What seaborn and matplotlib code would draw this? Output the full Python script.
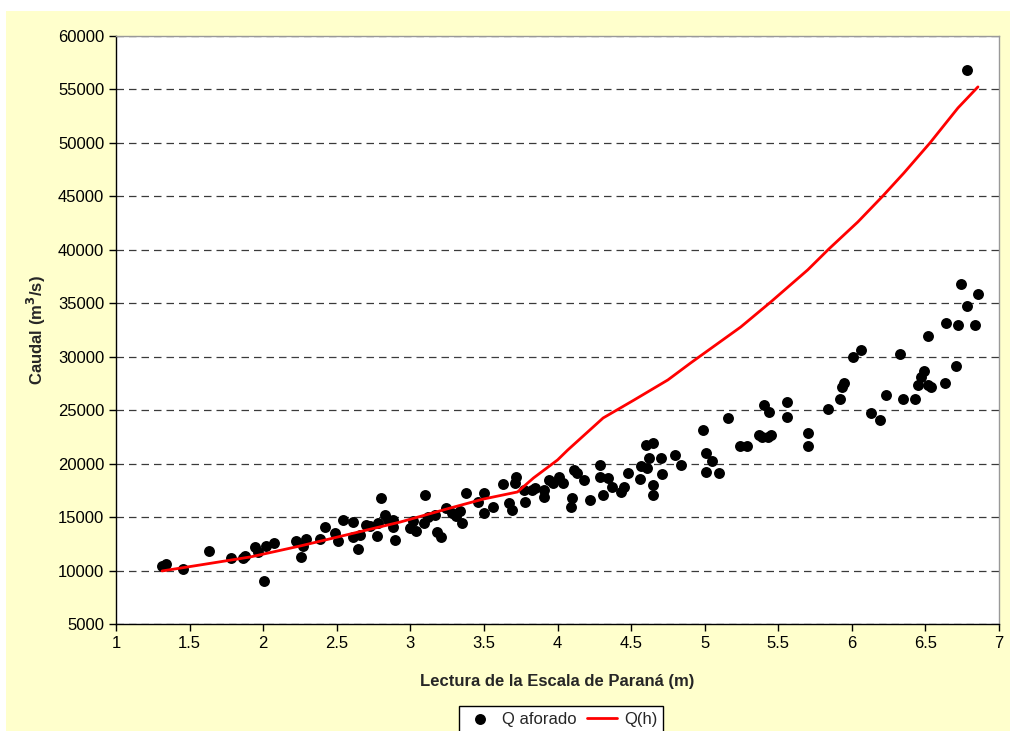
import matplotlib
matplotlib.use("Agg")
import matplotlib.pyplot as plt
import seaborn as sns
import pandas as pd
from matplotlib.patches import Rectangle

# Observed discharges (Q aforado)
h_obs = [1.313, 1.340, 1.456, 1.633, 1.782, 1.864, 1.878, 1.946, 1.966, 2.007, 2.020, 2.075,
         2.224, 2.259, 2.272, 2.293, 2.388, 2.422, 2.490, 2.510, 2.544, 2.612, 2.612, 2.646,
         2.660, 2.701, 2.728, 2.776, 2.782, 2.803, 2.830, 2.850, 2.884, 2.884, 2.898, 3.000,
         3.02, 3.04, 3.095, 3.10, 3.12, 3.17, 3.18, 3.21, 3.24, 3.28, 3.31, 3.34, 3.35, 3.38,
         3.46, 3.50, 3.50, 3.56, 3.63, 3.67, 3.69, 3.71, 3.72, 3.77, 3.78, 3.83, 3.85, 3.91,
         3.91, 3.94, 3.97, 4.01, 4.04, 4.09, 4.10, 4.11, 4.13, 4.18, 4.22, 4.29, 4.29, 4.31,
         4.34, 4.37, 4.43, 4.45, 4.48, 4.56, 4.57, 4.60, 4.65, 4.62, 4.61, 4.65, 4.65, 4.70,
         4.71, 4.80, 4.84,
         4.99, 5.01, 5.05, 5.01, 5.10, 5.16, 5.24, 5.29, 5.37, 5.40, 5.39, 5.43, 5.45, 5.44,
         5.56, 5.56, 5.70, 5.70, 5.84, 5.92, 5.93, 5.95, 6.01, 6.06, 6.13, 6.19, 6.23, 6.33,
         6.35, 6.43, 6.45, 6.47, 6.49, 6.52, 6.54, 6.52, 6.63, 6.64, 6.71, 6.72, 6.74, 6.78,
         6.84, 6.86, 6.78]
q_obs = [10430, 10610, 10145, 11830, 11170, 11170, 11360, 12200, 11735, 9020, 12300, 12580,
         12770, 11270, 12300, 12950, 12950, 14070, 13510, 12770, 14730, 14540, 13140, 12020,
         13330, 14260, 14170, 13230, 14450, 16790, 15200, 14730, 14730, 14070, 12860, 13980,
         14640, 13700, 14450, 17070, 15010, 15200, 13610, 13140, 15850, 15380, 15100, 15570, 14450, 17250,
         16410, 17250, 15380, 15940, 18100, 16320, 15660, 18190, 18750, 17540, 16410, 17540, 17720, 17540,
         16880, 18470, 18190, 18750, 18190, 15940, 16790, 19410, 19130, 18470, 16600, 19870, 18750, 17070,
         18660, 17820, 17350, 17820, 19130, 18560, 19780, 21740, 21930, 20530, 19590, 18000, 17070, 20530,
         19030, 20810, 19870,
         23150, 21000, 20250, 19220, 19130, 24270, 21650, 21650, 22680, 25490, 22490, 22490, 22680, 24830,
         25770, 24360, 22870, 21650, 25110, 26050, 27170, 27550, 29980, 30630, 24740, 24080, 26420, 30260,
         26050, 26050, 27360, 28110, 28670, 27360, 27170, 31940, 27550, 33160, 29140, 32970, 36810, 34750,
         32970, 35870, 56830]

# Rating curve Q(h)
h_curve = [1.313, 1.571, 1.912, 2.252, 2.592, 2.932, 3.272, 3.497, 3.728, 3.837, 4.00, 4.07,
           4.31, 4.52, 4.75, 4.905, 5.245, 5.449, 5.70, 5.844, 6.041, 6.211, 6.354, 6.531,
           6.721, 6.857]
q_curve = [9960, 10520, 11270, 12300, 13420, 14540, 15850, 16690, 17350, 18660, 20340, 21280,
           24270, 25950, 27830, 29420, 32780, 35120, 38120, 40080, 42610, 45040, 47190, 50000,
           53270, 55240]

x_ticks = [1, 1.5, 2, 2.5, 3, 3.5, 4, 4.5, 5, 5.5, 6, 6.5, 7]
x_tick_labels = ["1", "1.5", "2", "2.5", "3", "3.5", "4", "4.5", "5", "5.5", "6", "6.5", "7"]
y_ticks = list(range(5000, 60001, 5000))

sns.set_style("ticks")
plt.rcParams['font.family'] = ['Liberation Sans', 'DejaVu Sans']

fig = plt.figure(figsize=(10.13, 7.31), dpi=100, facecolor='white')
fig.patches.append(Rectangle((6 / 1013, 0), 1004 / 1013, 1 - 11 / 731,
                             transform=fig.transFigure, facecolor='#FFFFCC',
                             edgecolor='none', zorder=-10))
ax = fig.add_axes([116 / 1013, 1 - 624 / 731, (999 - 116) / 1013, (624 - 36) / 731])
ax.set_facecolor('white')

obs = pd.DataFrame({'h': h_obs, 'Q': q_obs})
cur = pd.DataFrame({'h': h_curve, 'Q': q_curve})

sns.scatterplot(data=obs, x='h', y='Q', ax=ax, color='black', s=62, edgecolor='black',
                linewidth=0, label='Q aforado', zorder=3)
sns.lineplot(data=cur, x='h', y='Q', ax=ax, color='#FF0000', linewidth=2.0, sort=False,
             label='Q(h)', zorder=4)

ax.set_xlim(1, 7)
ax.set_ylim(5000, 60000)
ax.set_xticks(x_ticks)
ax.set_xticklabels(x_tick_labels)
ax.set_yticks(y_ticks)
ax.tick_params(axis='both', direction='out', length=5, width=1, labelsize=12, colors='black')
ax.yaxis.grid(True, color='#3a3a3a', linestyle=(0, (6, 4)), linewidth=0.9)
ax.xaxis.grid(False)
ax.set_axisbelow(True)

for s in ['left', 'bottom']:
    ax.spines[s].set_color('black')
    ax.spines[s].set_linewidth(1)
for s in ['top', 'right']:
    ax.spines[s].set_visible(True)
    ax.spines[s].set_color('#999999')
    ax.spines[s].set_linewidth(1)

ax.set_xlabel('Lectura de la Escala de Paraná (m)', fontsize=12, fontweight='bold', labelpad=17)
ax.set_ylabel('Caudal (m$^\\mathbf{3}$/s)', fontsize=12, fontweight='bold', labelpad=7)

leg = ax.legend(loc='upper center', bbox_to_anchor=(0.5 + 0.004, -(706 - 624) / 588),
                bbox_transform=ax.transAxes, ncol=2, frameon=True, fancybox=False,
                fontsize=12, handlelength=1.8, columnspacing=0.6, handletextpad=0.45,
                borderpad=0.35, borderaxespad=0, markerscale=1.0)
leg.get_frame().set_edgecolor('black')
leg.get_frame().set_linewidth(1)
leg.get_frame().set_facecolor('white')
leg.get_frame().set_alpha(1)

fig.savefig('out.png', dpi=100, facecolor=fig.get_facecolor())
